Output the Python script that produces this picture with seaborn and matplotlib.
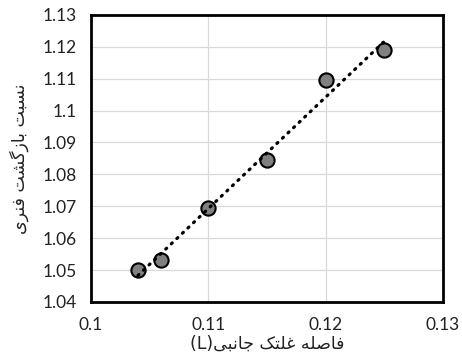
import numpy as np
import pandas as pd
import matplotlib
matplotlib.use("Agg")
import matplotlib.pyplot as plt
import seaborn as sns

# side roller distance L and springback ratio
roller_gap = [0.104, 0.106, 0.110, 0.115, 0.120, 0.125]
springback = [1.050, 1.053, 1.0695, 1.0845, 1.1095, 1.119]

x_ticks = [0.10, 0.11, 0.12, 0.13]
x_tick_labels = ["0.1", "0.11", "0.12", "0.13"]
y_ticks = [1.04, 1.05, 1.06, 1.07, 1.08, 1.09, 1.10, 1.11, 1.12, 1.13]
y_tick_labels = ["1.04", "1.05", "1.06", "1.07", "1.08", "1.09", "1.1", "1.11", "1.12", "1.13"]

# Persian labels written in shaped presentation forms, visual order
y_label = "\uFBFC\uFEAE\uFEE8\uFED3 \uFE96\uFEB8\uFB94\uFEAF\uFE8E\uFE91 \uFE96\uFE92\uFEB4\uFEE7"
x_label = "(L)\uFBFD\uFE92\uFEE7\uFE8E\uFE9F \uFB8F\uFE98\uFEE0\uFECF \uFEEA\uFEE0\uFEBB\uFE8E\uFED3"

df = pd.DataFrame({"L": roller_gap, "ratio": springback})

sns.set_theme(style="whitegrid")
plt.rcParams["font.family"] = ["Lato", "DejaVu Sans"]

fig = plt.figure(figsize=(4.62, 3.62), dpi=100)
ax = fig.add_axes([0.197, 0.166, 0.762, 0.793])

sns.regplot(data=df, x="L", y="ratio", ax=ax, ci=None,
            scatter_kws=dict(s=105, color="#808080", edgecolor="black",
                             linewidths=1.5, alpha=1, zorder=3),
            line_kws=dict(color="black", lw=2.3, linestyle=(0, (0.4, 2.0)),
                          dash_capstyle="round", zorder=4))

ax.set_xlim(0.10, 0.13)
ax.set_ylim(1.04, 1.13)
ax.set_xticks(x_ticks)
ax.set_xticklabels(x_tick_labels)
ax.set_yticks(y_ticks)
ax.set_yticklabels(y_tick_labels)
ax.tick_params(axis="both", length=0, labelsize=12.5, colors="#222222")
ax.tick_params(axis="y", pad=10)
ax.tick_params(axis="x", pad=11)
ax.grid(True, color="#d9d9d9", lw=0.9)
for s in ax.spines.values():
    s.set_color("black")
    s.set_linewidth(2.0)
ax.set_xlabel(x_label, fontsize=12.5, family=["DejaVu Sans"], labelpad=1, color="#222222")
ax.set_ylabel(y_label, fontsize=12.5, family=["DejaVu Sans"], labelpad=10, color="#222222")

fig.savefig("out.png", dpi=100)
